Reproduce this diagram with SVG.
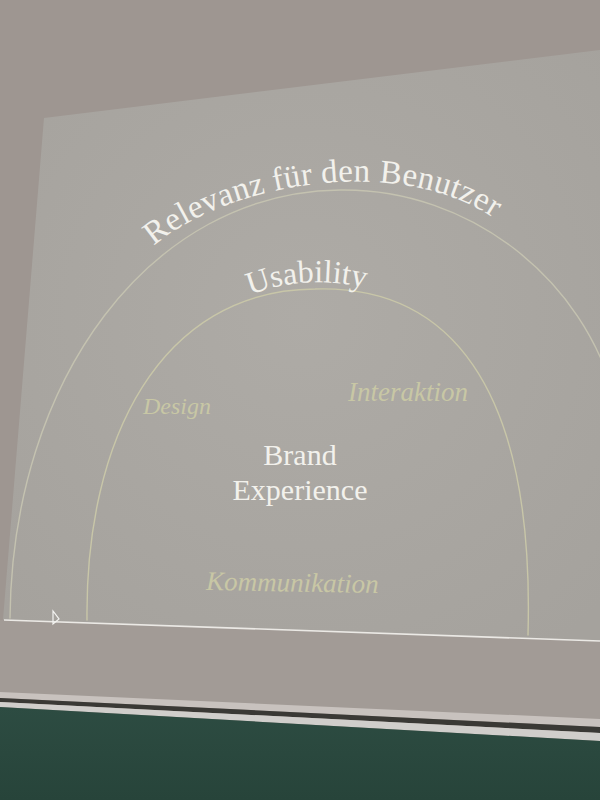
<svg xmlns="http://www.w3.org/2000/svg" width="600" height="800" viewBox="0 0 600 800">
  <style>
    .title { font-family: "Liberation Serif", "DejaVu Serif", serif; fill: #f2f1ec; }
    .sub { font-family: "Liberation Serif", "DejaVu Serif", serif; font-style: italic; fill: #c8c7a5; }
    .ring { fill: none; stroke-width: 1.4; stroke-linecap: round; }
  </style>
  <defs>
    <radialGradient id="screenGlow" cx="0.5" cy="0.45" r="0.7">
      <stop offset="0" stop-color="#aeaba6"/>
      <stop offset="1" stop-color="#a5a29d"/>
    </radialGradient>
    <linearGradient id="board" x1="0" y1="0" x2="0" y2="1">
      <stop offset="0" stop-color="#2d4c42"/>
      <stop offset="1" stop-color="#27443a"/>
    </linearGradient>
    <path id="outerLabel" d="M 154 246 C 222 186, 402 148, 502 224"/>
    <path id="innerLabel" d="M 250 295 Q 312 271 380 292"/>
  </defs>

  <!-- wall -->
  <rect x="0" y="0" width="600" height="800" fill="#9e9691"/>
  <polygon points="0,620 600,641 600,730 0,700" fill="#a29b96"/>

  <!-- projected slide -->
  <polygon id="screen" points="44,118 600,50 600,641 3,620" fill="url(#screenGlow)"/>
  <line x1="4" y1="620" x2="600" y2="641" stroke="#ebe9e5" stroke-width="1.6"/>

  <!-- mouse pointer -->
  <polygon points="53,611 53,624 59,619" fill="none" stroke="#f4f4f2" stroke-width="1.2"/>

  <!-- concentric half rings -->
  <g id="rings">
    <path class="ring" stroke="#c4c2b0" d="M 10 618 C 12 380, 150 192, 340 190 C 470 188, 585 280, 615 400"/>
    <path class="ring" stroke="#c8c6a8" d="M 87 620 C 85 440, 160 290, 315 289 C 445 285, 535 380, 528 635"/>
  </g>

  <!-- ring labels -->
  <g id="relevanz">
    <text class="title" font-size="33"><textPath href="#outerLabel" textLength="360" lengthAdjust="spacing">Relevanz für den Benutzer</textPath></text>
  </g>
  <g id="usability">
    <text class="title" font-size="32"><textPath href="#innerLabel">Usability</textPath></text>
  </g>
  <g id="brand">
    <text class="title" font-size="30" text-anchor="middle" x="300" y="465">Brand</text>
    <text class="title" font-size="30" text-anchor="middle" x="300" y="500">Experience</text>
  </g>
  <g id="design">
    <text class="sub" font-size="24" x="143" y="414">Design</text>
  </g>
  <g id="interaktion">
    <text class="sub" font-size="27" x="348" y="401">Interaktion</text>
  </g>
  <g id="kommunikation">
    <text class="sub" font-size="27" x="206" y="590" transform="rotate(1 206 590)">Kommunikation</text>
  </g>

  <!-- chalkboard frame at the bottom -->
  <polygon points="0,692 600,719 600,727 0,698" fill="#c8c2be"/>
  <polygon points="0,698 600,727 600,733 0,702" fill="#3a3935"/>
  <polygon points="0,702 600,733 600,741 0,707" fill="#d0cecb"/>
  <polygon points="0,707 600,741 600,800 0,800" fill="url(#board)"/>
</svg>
